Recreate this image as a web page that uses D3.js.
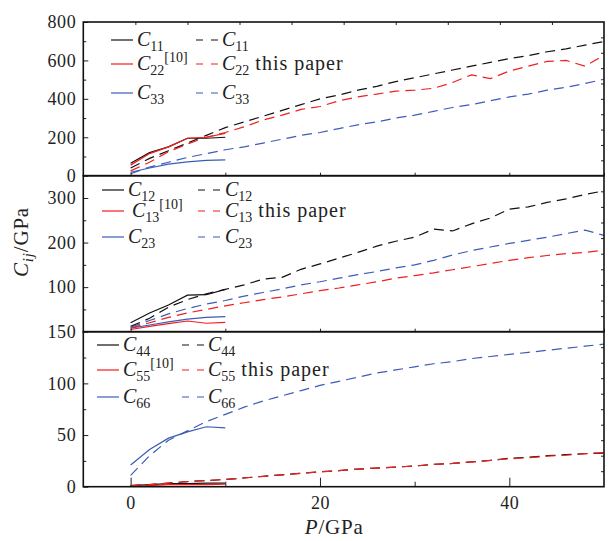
<!DOCTYPE html>
<html>
<head>
<meta charset="utf-8">
<script src="https://cdn.jsdelivr.net/npm/d3@7"></script>
<style>
body { margin: 0; background: #fff; }
text { font-family: "Liberation Serif", "DejaVu Serif", serif; fill: #222; }
</style>
</head>
<body>
<svg id="vis-svg"></svg>
<script>
// pressure grids (GPa)
const pLit = [0, 2, 4, 6, 8, 10];
const pCalc = [0, 2, 4, 6, 8, 10, 12, 14, 16, 18, 20, 22, 24, 26, 28, 30, 32, 34, 36, 38, 40, 42, 44, 46, 48, 50];

// panel 1: C11, C22, C33
const c11Lit = [65, 120, 150, 195, 195, 200];
const c22Lit = [55, 115, 150, 195, 200, 220];
const c33Lit = [18, 40, 60, 72, 80, 82];
const c11Calc = [40, 90, 130, 170, 210, 250, 280, 310, 340, 370, 400, 420, 445, 465, 490, 510, 530, 550, 570, 590, 610, 625, 645, 660, 680, 698];
const c22Calc = [25, 70, 125, 165, 200, 225, 255, 290, 315, 345, 360, 390, 410, 425, 440, 445, 455, 485, 525, 505, 545, 570, 595, 600, 570, 628];
const c33Calc = [10, 45, 70, 95, 115, 135, 150, 170, 190, 210, 225, 245, 265, 280, 300, 315, 335, 355, 370, 390, 410, 425, 445, 460, 480, 502];

// panel 2: C12, C13, C23
const c12Lit = [20, 42, 60, 82, 83, 95];
const c13Lit = [5, 12, 18, 24, 19, 21];
const c23Lit = [8, 15, 22, 28, 32, 34];
const c12Calc = [12, 30, 55, 72, 85, 95, 105, 118, 122, 140, 152, 165, 178, 192, 203, 212, 230, 226, 242, 255, 275, 280, 290, 298, 308, 316];
const c13Calc = [8, 20, 32, 42, 50, 58, 65, 72, 78, 85, 92, 98, 105, 112, 120, 126, 132, 139, 146, 153, 160, 166, 171, 175, 178, 183];
const c23Calc = [10, 25, 40, 52, 62, 70, 80, 88, 96, 105, 112, 120, 128, 135, 143, 150, 160, 172, 182, 190, 198, 205, 212, 220, 228, 216];

// panel 3: C44, C55, C66
const c44Lit = [1, 2, 3, 3, 3.5, 3.5];
const c55Lit = [0.5, 1, 2, 2, 2, 2.5];
const c66Lit = [21, 36, 47, 53, 58, 57];
const c44Calc = [1, 2, 3.5, 5, 6, 7, 8.5, 10, 11.5, 13, 14.5, 15.5, 17, 18, 19, 20, 21.5, 22.5, 24, 25.5, 27.5, 28.5, 30, 31, 32, 32.5];
const c55Calc = [1, 2, 3.5, 5, 6, 7, 8.5, 10, 11.5, 13, 14.5, 15.5, 17, 18, 19, 20, 21.5, 22.5, 24, 25.5, 27, 28, 29.5, 30.5, 32, 33];
const c66Calc = [11, 30, 45, 54, 63, 70, 77, 83, 88, 93, 98, 102, 106, 110, 113, 116, 119, 121, 124, 126, 128, 130, 132, 134, 136, 138];

// axis ticks
const xTicks = [0, 10, 20, 30, 40, 50];
const xLabels = [0, 20, 40];

const panels = [
    {
        domain: [0, 800], top: 22, bottom: 175.7,
        major: [0, 200, 400, 600, 800], minor: [100, 300, 500, 700],
        lit: [c11Lit, c22Lit, c33Lit], calc: [c11Calc, c22Calc, c33Calc],
        subs: ["11", "22", "33"],
        legend: { x1: 111, x2: 196, tx1: 137, tx2: 222, rows: [40, 64, 93], shift2: 0 }
    },
    {
        domain: [0, 350], top: 175.7, bottom: 331.7,
        major: [100, 200, 300], minor: [50, 150, 250],
        lit: [c12Lit, c13Lit, c23Lit], calc: [c12Calc, c13Calc, c23Calc],
        subs: ["12", "13", "23"],
        legend: { x1: 102, x2: 198, tx1: 128, tx2: 225, rows: [190, 211, 237], shift2: 4 }
    },
    {
        domain: [0, 150], top: 331.7, bottom: 486.7,
        major: [0, 50, 100, 150], minor: [25, 75, 125],
        lit: [c44Lit, c55Lit, c66Lit], calc: [c44Calc, c55Calc, c66Calc],
        subs: ["44", "55", "66"],
        legend: { x1: 97, x2: 182, tx1: 123, tx2: 208, rows: [345, 370, 397], shift2: 0 }
    }
];

const colors = ["#111", "#f21d1d", "#3b5cb8"];

(function () {
    let svg = d3.select("#vis-svg")
        .attr("width", 613)
        .attr("height", 541);

    let xScale = d3.scaleLinear()
        .domain([-5, 50])
        .range([83.3, 604]);

    panels.forEach((pn, k) => {
        let yScale = d3.scaleLinear()
            .domain(pn.domain)
            .range([pn.bottom, pn.top]);

        let g = svg.append("g").attr("class", `panel-${k}`);

        // clip to the frame
        g.append("clipPath").attr("id", `clip-${k}`)
            .append("rect")
            .attr("x", xScale(-5)).attr("y", pn.top)
            .attr("width", xScale(50) - xScale(-5)).attr("height", pn.bottom - pn.top);

        let line = xs => d3.line()
            .x((d, i) => xScale(xs[i]))
            .y(d => yScale(d));

        let plot = g.append("g").attr("clip-path", `url(#clip-${k})`);

        pn.lit.forEach((s, j) => {
            plot.append("path")
                .attr("d", line(pLit)(s))
                .attr("fill", "none")
                .attr("stroke", colors[j])
                .attr("stroke-width", 1.2);
        });
        pn.calc.forEach((s, j) => {
            plot.append("path")
                .attr("d", line(pCalc)(s))
                .attr("fill", "none")
                .attr("stroke", colors[j])
                .attr("stroke-width", 1.2)
                .attr("stroke-dasharray", "10,6");
        });

        // left axis, ticks inside
        let yAxis = d3.axisLeft(yScale)
            .tickValues(pn.major)
            .tickSize(-5)
            .tickPadding(7)
            .tickFormat(d3.format("d"));
        let ya = g.append("g")
            .attr("transform", `translate(${xScale(-5)},0)`)
            .call(yAxis);
        ya.select(".domain").remove();
        ya.selectAll("text").style("font-size", "18px").style("letter-spacing", "0.6px").attr("fill", "#222");
        ya.selectAll("line").attr("stroke", "#222");

        g.append("g")
            .attr("transform", `translate(${xScale(-5)},0)`)
            .call(d3.axisLeft(yScale).tickValues(pn.minor).tickSize(-3).tickFormat(""))
            .call(a => a.select(".domain").remove())
            .selectAll("line").attr("stroke", "#222");

        // right axis: ten divisions
        let rTicks = d3.range(1, 10).map(i => pn.domain[0] + i * (pn.domain[1] - pn.domain[0]) / 10);
        g.append("g")
            .attr("transform", `translate(${xScale(50)},0)`)
            .call(d3.axisRight(yScale).tickValues(rTicks).tickSize(-3).tickFormat(""))
            .call(a => a.select(".domain").remove())
            .selectAll("line").attr("stroke", "#222");

        // bottom ticks
        let last = k === panels.length - 1;
        let xAxis = d3.axisBottom(xScale)
            .tickValues(last ? xLabels : xTicks)
            .tickSize(last ? -9 : -3)
            .tickPadding(last ? 10 : 0)
            .tickFormat(last ? d3.format("d") : "");
        let xa = g.append("g")
            .attr("transform", `translate(0,${pn.bottom})`)
            .call(xAxis);
        xa.select(".domain").remove();
        xa.selectAll("line").attr("stroke", "#222");
        xa.selectAll("text").style("font-size", "18px").style("letter-spacing", "0.6px").attr("fill", "#222");
        if (last) {
            g.append("g")
                .attr("transform", `translate(0,${pn.bottom})`)
                .call(d3.axisBottom(xScale).tickValues([10, 30]).tickSize(-5).tickFormat(""))
                .call(a => a.select(".domain").remove())
                .selectAll("line").attr("stroke", "#222");
        }
        if (k === 0) {
            let tTicks = d3.range(1, 10).map(i => -5 + i * 5.5);
            g.append("g")
                .attr("transform", `translate(0,${pn.top})`)
                .call(d3.axisTop(xScale).tickValues(tTicks).tickSize(-3).tickFormat(""))
                .call(a => a.select(".domain").remove())
                .selectAll("line").attr("stroke", "#222");
        }

        // frame
        g.append("rect")
            .attr("x", xScale(-5)).attr("y", pn.top)
            .attr("width", xScale(50) - xScale(-5)).attr("height", pn.bottom - pn.top)
            .attr("fill", "none")
            .attr("stroke", "#111")
            .attr("stroke-width", 1.6);

        // legend
        let lg = pn.legend;
        pn.subs.forEach((sub, j) => {
            let y = lg.rows[j];
            g.append("line")
                .attr("x1", lg.x1).attr("x2", lg.x1 + 22)
                .attr("y1", y).attr("y2", y)
                .attr("stroke", colors[j]).attr("stroke-width", 1.2);
            g.append("line")
                .attr("x1", lg.x2).attr("x2", lg.x2 + 22)
                .attr("y1", y).attr("y2", y)
                .attr("stroke", colors[j]).attr("stroke-width", 1.2)
                .attr("stroke-dasharray", "7,8");

            let t1 = g.append("text")
                .attr("x", lg.tx1 + (j === 1 ? lg.shift2 : 0)).attr("y", y + 6)
                .style("font-size", "20px");
            t1.append("tspan").style("font-style", "italic").text("C");
            t1.append("tspan").attr("dy", 5).style("font-size", "14px").text(sub);
            if (j === 1) t1.append("tspan").attr("dy", -13).style("font-size", "14px").text("[10]");

            let t2 = g.append("text")
                .attr("x", lg.tx2).attr("y", y + 6)
                .style("font-size", "20px");
            t2.append("tspan").style("font-style", "italic").text("C");
            t2.append("tspan").attr("dy", 5).style("font-size", "14px").text(sub);
            if (j === 1) t2.append("tspan").attr("dy", -5).style("letter-spacing", "1px").text(" this paper");
        });
    });

    // axis titles
    let yt = svg.append("text")
        .attr("transform", "translate(28,242) rotate(-90)")
        .attr("text-anchor", "middle")
        .style("font-size", "21px")
        .style("letter-spacing", "0.8px");
    yt.append("tspan").style("font-style", "italic").text("C");
    yt.append("tspan").attr("dy", 5).style("font-size", "15px").style("font-style", "italic").text("ij");
    yt.append("tspan").attr("dy", -5).text("/GPa");

    let xt = svg.append("text")
        .attr("x", xScale(21.5)).attr("y", 534)
        .attr("text-anchor", "middle")
        .style("font-size", "21px")
        .style("letter-spacing", "0.8px");
    xt.append("tspan").style("font-style", "italic").text("P");
    xt.append("tspan").text("/GPa");
})();
</script>
</body>
</html>
